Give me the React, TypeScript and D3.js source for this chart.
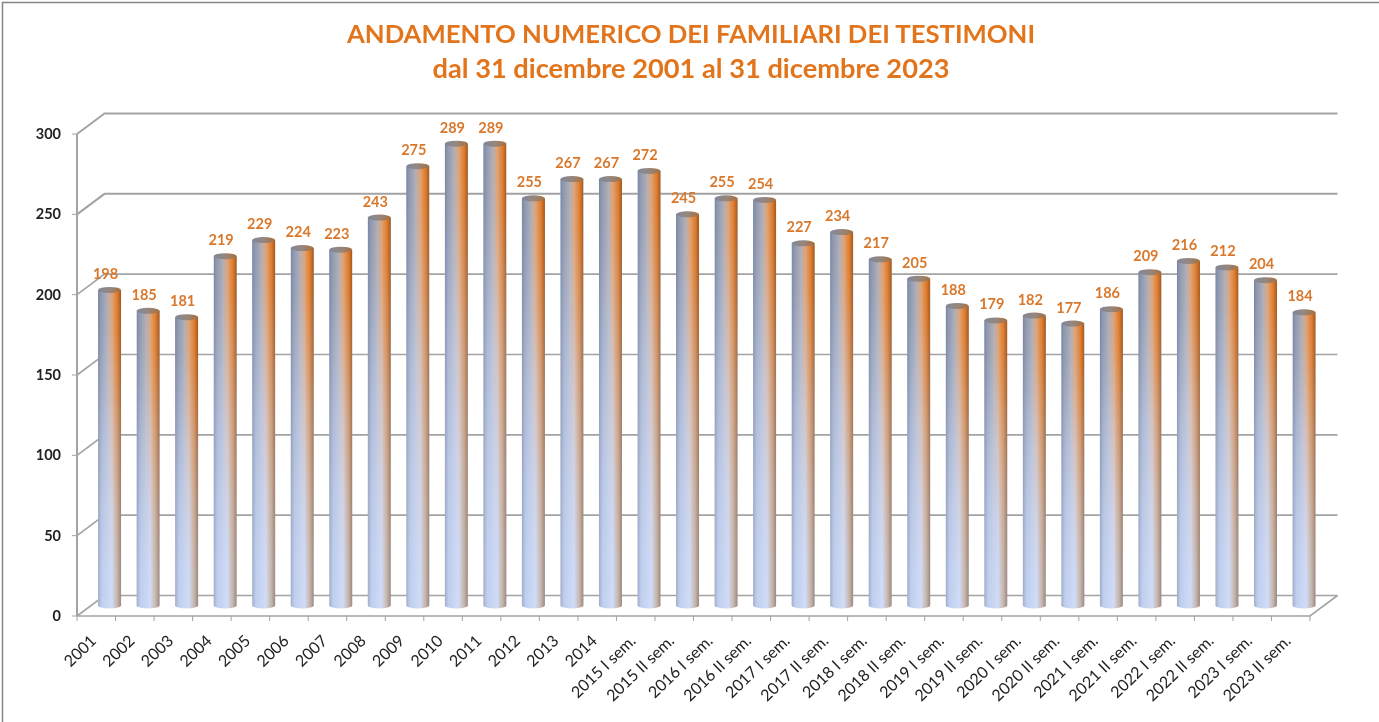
import React, { useEffect, useRef } from "react";
import * as d3 from "d3";

const titleLines = [
  "ANDAMENTO NUMERICO DEI FAMILIARI DEI TESTIMONI",
  "dal 31 dicembre 2001 al 31 dicembre 2023",
];
const titleWidths = [688, 517];
const titleSizes = [25.5, 26.5];

const years = [
  "2001", "2002", "2003", "2004", "2005", "2006", "2007", "2008", "2009", "2010", "2011", "2012", "2013", "2014",
  "2015 I sem.", "2015 II sem.", "2016 I sem.", "2016 II sem.", "2017 I sem.", "2017 II sem.", "2018 I sem.", "2018 II sem.",
  "2019 I sem.", "2019 II sem.", "2020 I sem.", "2020 II sem.", "2021 I sem.", "2021 II sem.", "2022 I sem.", "2022 II sem.",
  "2023 I sem.", "2023 II sem.",
];

const values = [
  198, 185, 181, 219, 229, 224, 223, 243, 275, 289, 289, 255, 267, 267,
  272, 245, 255, 254, 227, 234, 217, 205, 188, 179, 182, 177, 186, 209, 216, 212, 204, 184,
];

const yTicks = [0, 50, 100, 150, 200, 250, 300];

const topStops = [
  [0, "#78839c"], [0.1, "#8a95ae"], [0.42, "#b2aeb4"], [0.6, "#e0a272"], [0.84, "#df7a2a"], [1, "#a4561a"],
];
const bottomStops = [
  [0, "#a2aec8"], [0.16, "#c0cfef"], [0.6, "#d0dcf7"], [0.84, "#c6b4aa"], [1, "#9a8a84"],
];
// opacity of the orange layer, top of each bar to its foot
const fadeStops = [
  [0, 1], [0.12, 0.92], [0.3, 0.66], [0.45, 0.42], [0.68, 0.16], [0.88, 0.02], [1, 0],
];

const WIDTH = 1379;
const HEIGHT = 722;
const FONT = "Lato, Carlito, sans-serif";
const GRID = "#a3a3a3";

const App = () => {
  const svgRef = useRef<SVGSVGElement>(null);

  useEffect(() => {
    const svg = d3.select(svgRef.current);
    svg.selectAll("*").remove();

    const x = d3.scaleBand().domain(years).range([77, 1310]);
    const y = d3.scaleLinear().domain([0, 300]).range([616, 134]);

    // depth of the fake 3d box
    const depthX = 27.5;
    const depthY = -20.5;
    const barW = 23;
    const rx = barW / 2;
    const ry = 3;
    const barX = (d: string) => x(d)! + x.bandwidth() / 2 + 13.3;
    const baseY = y(0) - 10.5;
    const topY = (v: number) => y(v) - 8;

    const defs = svg.append("defs");

    const grad = (id: string, stops: any[]) => {
      defs
        .append("linearGradient")
        .attr("id", id)
        .selectAll("stop")
        .data(stops)
        .join("stop")
        .attr("offset", (d) => d[0])
        .attr("stop-color", (d) => d[1]);
    };
    grad("barTop", topStops);
    grad("barBottom", bottomStops);
    grad("barCap", [[0, "#808899"], [0.5, "#95877f"], [1, "#a8703f"]]);

    // the orange layer fades out towards the floor, per bar
    const fade = defs
      .append("linearGradient")
      .attr("id", "fadeGrad")
      .attr("x1", 0)
      .attr("x2", 0)
      .attr("y1", 0)
      .attr("y2", 1);
    fade
      .selectAll("stop")
      .data(fadeStops)
      .join("stop")
      .attr("offset", (d) => d[0])
      .attr("stop-color", "#fff")
      .attr("stop-opacity", (d) => d[1]);
    defs
      .append("mask")
      .attr("id", "fadeMask")
      .attr("maskUnits", "objectBoundingBox")
      .attr("maskContentUnits", "objectBoundingBox")
      .attr("x", 0)
      .attr("y", 0)
      .attr("width", 1)
      .attr("height", 1)
      .append("rect")
      .attr("width", 1)
      .attr("height", 1)
      .attr("fill", "url(#fadeGrad)");

    defs.append("filter").attr("id", "soft").append("feGaussianBlur").attr("stdDeviation", 0.45);
    defs.append("filter").attr("id", "softText").append("feGaussianBlur").attr("stdDeviation", 0.3);

    svg.append("rect").attr("width", WIDTH).attr("height", HEIGHT).attr("fill", "#fff");

    // frame
    svg
      .append("path")
      .attr("d", `M2.5,${HEIGHT} V2.5 H${WIDTH}`)
      .attr("fill", "none")
      .attr("stroke", "#858585")
      .attr("stroke-width", 1.5);

    // title
    svg
      .append("g")
      .attr("filter", "url(#softText)")
      .selectAll("text")
      .data(titleLines)
      .join("text")
      .attr("x", 691)
      .attr("y", (d, i) => 42.5 + i * 35.5)
      .attr("text-anchor", "middle")
      .attr("font-family", FONT)
      .attr("font-weight", 700)
      .attr("font-size", (d, i) => titleSizes[i])
      .attr("textLength", (d, i) => titleWidths[i])
      .attr("lengthAdjust", "spacingAndGlyphs")
      .attr("fill", "#e2741c")
      .text((d) => d);

    const right = x.range()[1];
    const left = x.range()[0];

    // walls and floor
    const grid = svg.append("g").attr("fill", "none").attr("stroke", GRID);
    grid
      .selectAll("path")
      .data(yTicks)
      .join("path")
      .attr("d", (d) => `M${left},${y(d)} l${depthX},${depthY} H${right + depthX}`)
      .attr("stroke-width", (d) => (d >= 250 ? 2 : 1.6));
    grid
      .append("path")
      .attr("d", `M${left},${y(0)} H${right} l${depthX},${depthY}`)
      .attr("stroke-width", 1.6);
    grid
      .append("path")
      .attr("d", `M${left},${y(300)} V${y(0)}`)
      .attr("stroke-width", 2);

    // tick marks
    grid
      .append("g")
      .selectAll("line")
      .data(yTicks)
      .join("line")
      .attr("x1", left - 5)
      .attr("x2", left)
      .attr("y1", (d) => y(d))
      .attr("y2", (d) => y(d));
    grid
      .append("g")
      .selectAll("line")
      .data(years.concat("end"))
      .join("line")
      .attr("x1", (d, i) => left + i * x.bandwidth())
      .attr("x2", (d, i) => left + i * x.bandwidth())
      .attr("y1", y(0))
      .attr("y2", y(0) + 5);

    // cylinders
    const cyl = (d: string, v: number) =>
      `M${barX(d) - rx},${topY(v)} V${baseY} A${rx},${ry} 0 0 0 ${barX(d) + rx},${baseY} V${topY(v)} Z`;
    const bars = svg
      .append("g")
      .attr("filter", "url(#soft)")
      .selectAll("g")
      .data(years.map((d, i) => ({ d, v: values[i] })))
      .join("g");
    bars.append("path").attr("d", (e) => cyl(e.d, e.v)).attr("fill", "url(#barBottom)");
    bars
      .append("path")
      .attr("d", (e) => cyl(e.d, e.v))
      .attr("fill", "url(#barTop)")
      .attr("mask", "url(#fadeMask)");
    bars
      .append("ellipse")
      .attr("cx", (e) => barX(e.d))
      .attr("cy", (e) => topY(e.v))
      .attr("rx", rx)
      .attr("ry", ry)
      .attr("fill", "url(#barCap)");

    // value labels
    svg
      .append("g")
      .attr("filter", "url(#softText)")
      .selectAll("text")
      .data(years.map((d, i) => ({ d, v: values[i] })))
      .join("text")
      .attr("x", (e) => barX(e.d) - 4)
      .attr("y", (e) => topY(e.v) - 11)
      .attr("text-anchor", "middle")
      .attr("font-family", FONT)
      .attr("font-weight", 700)
      .attr("font-size", 14.5)
      .attr("fill", "#d9782c")
      .text((e) => e.v);

    // y labels
    svg
      .append("g")
      .attr("filter", "url(#softText)")
      .selectAll("text")
      .data(yTicks)
      .join("text")
      .attr("x", 61)
      .attr("y", (d) => y(d) + 5)
      .attr("text-anchor", "end")
      .attr("font-family", FONT)
      .attr("font-weight", 700)
      .attr("font-size", 14.5)
      .attr("fill", "#222")
      .text((d) => d);

    // x labels, rotated and ending below the tick
    svg
      .append("g")
      .attr("filter", "url(#softText)")
      .selectAll("text")
      .data(years)
      .join("text")
      .attr("transform", (d) => `translate(${x(d)! + x.bandwidth() / 2 + 1},${y(0) + 26}) rotate(-44)`)
      .attr("text-anchor", "end")
      .attr("font-family", FONT)
      .attr("font-size", 16)
      .attr("fill", "#222")
      .text((d) => d);
  }, []);

  return (
    <svg
      ref={svgRef}
      width={WIDTH}
      height={HEIGHT}
      style={{ position: "absolute", left: 0, top: 0, display: "block" }}
    />
  );
};

export default App;
